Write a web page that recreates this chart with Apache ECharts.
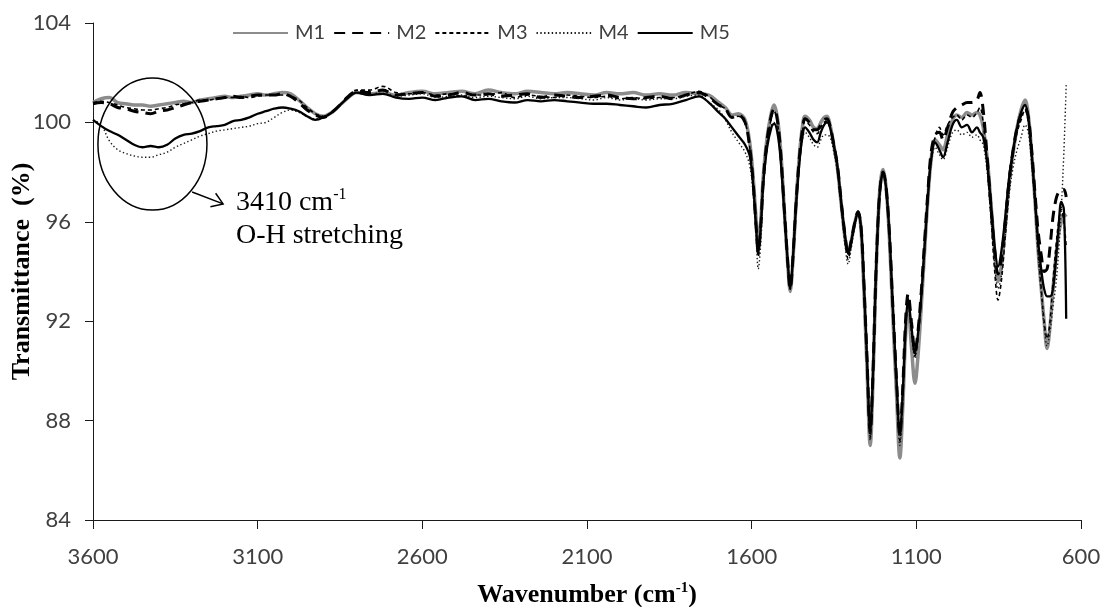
<!DOCTYPE html>
<html><head><meta charset="utf-8">
<script src="https://cdn.jsdelivr.net/npm/echarts@6/dist/echarts.min.js"></script>
<style>html,body{margin:0;padding:0;background:#fff}#c{width:1104px;height:607px}</style>
</head><body><div id="c"></div>
<script>
// ---------- DATA ----------
const wavenumber = [
3600,3575,3550,3525,3500,3475,3450,3425,3400,3375,
3350,3325,3300,3275,3250,3225,3200,3175,3150,3125,
3100,3075,3050,3025,3000,2975,2950,2925,2900,2875,
2850,2825,2800,
2760,2720,2680,2640,2600,2560,2520,2480,2440,2400,
2360,2320,2280,2240,2200,2160,2120,2080,2040,2000,
1960,1920,1880,1840,1800,1760,
1730,1700,1680,1660,1640,1620,1605,1595,1587,1580,
1572,1565,1553,1540,1532,1522,1512,1500,1490,1483,
1475,1465,1455,1446,1438,1425,1412,1401,1390,1380,
1371,1362,1352,1340,1328,1316,1307,1298,1288,1277,
1268,1260,1250,1240,1232,1224,1215,1208,1201,1192,
1182,1172,1160,1150,1141,1132,1125,1115,1104,1095,
1085,1075,1065,1055,1043,1030,1019,1005,990,977,
962,946,931,916,907,897,885,872,862,852,
842,830,818,806,794,782,770,760,750,740,
730,720,712,703,694,685,676,668,660,652,
645
];
const m1 = [
100.8,100.95,101.0,100.8,100.75,100.7,100.7,100.65,100.7,100.75,
100.8,100.85,100.8,100.9,100.95,101.0,101.05,101.0,101.05,101.1,
101.15,101.1,101.15,101.2,101.15,100.9,100.6,100.35,100.25,100.4,
100.7,101.0,101.2,
101.15,101.2,101.1,101.2,101.25,101.15,101.2,101.25,101.15,101.3,
101.2,101.15,101.25,101.2,101.15,101.2,101.15,101.1,101.2,101.15,
101.2,101.1,101.15,101.1,101.2,101.15,
101.1,100.8,100.6,100.3,100.35,100.1,99.1,97.7,96.2,95.1,
96.1,97.8,99.4,100.4,100.7,100.2,98.9,96.3,94.2,93.2,
94.4,96.8,98.7,99.8,100.25,100.1,99.8,99.75,100.0,100.2,
100.25,99.9,99.2,98.2,96.7,95.3,94.8,95.2,95.9,96.4,
95.7,93.5,90.2,87.0,89.4,93.2,96.4,97.7,98.1,97.4,
95.4,92.4,89.0,86.5,88.6,91.6,92.6,91.0,89.5,90.6,
92.6,94.8,96.9,98.5,99.3,99.1,98.9,99.5,100.1,100.3,
100.2,100.4,100.3,100.4,100.3,99.8,98.6,96.5,94.8,93.6,
94.2,95.8,97.6,98.8,99.8,100.5,100.9,100.3,98.8,96.9,
94.8,93.2,92.0,90.9,91.8,93.3,94.6,95.5,96.0,96.3,
96.2
];
const m2 = [
100.75,100.8,100.75,100.6,100.55,100.45,100.4,100.35,100.45,100.5,
100.6,100.7,100.8,100.85,100.9,100.95,101.0,101.05,101.0,101.05,
101.1,101.1,101.1,101.15,101.05,100.8,100.5,100.3,100.2,100.4,
100.7,101.05,101.25,
101.2,101.3,101.1,101.15,101.2,101.05,101.1,101.2,101.1,101.15,
101.05,101.1,101.15,101.0,101.1,101.05,101.0,101.05,101.1,101.0,
100.95,101.0,101.05,100.95,101.1,101.2,
101.0,100.7,100.55,100.2,100.3,100.0,98.9,97.5,95.9,94.8,
95.9,97.6,99.3,100.3,100.55,100.1,98.8,96.3,94.3,93.3,
94.5,96.8,98.6,99.7,100.15,100.0,99.7,99.7,99.9,100.1,
100.15,99.85,99.2,98.3,96.8,95.4,94.7,95.2,95.9,96.4,
95.8,93.8,90.6,87.5,89.8,93.4,96.4,97.6,98.0,97.4,
95.6,92.8,89.6,87.4,89.4,92.2,93.1,92.0,90.8,91.6,
93.2,95.2,97.2,98.8,99.5,99.6,99.3,99.8,100.4,100.6,
100.7,100.8,100.8,100.9,101.2,100.5,98.6,96.4,94.8,93.9,
94.5,96.0,97.7,98.9,99.8,100.3,100.6,100.2,98.9,97.2,
95.6,94.6,94.0,94.1,95.0,96.2,96.9,97.2,97.3,97.3,
97.0
];
const m3 = [
100.8,100.85,100.8,100.7,100.6,100.55,100.5,100.5,100.55,100.6,
100.7,100.75,100.8,100.9,100.9,100.95,101.0,101.0,101.05,101.0,
101.05,101.1,101.1,101.1,101.05,100.9,100.6,100.35,100.25,100.4,
100.7,101.05,101.3,
101.3,101.45,101.2,101.15,101.2,101.1,101.15,101.05,101.1,101.1,
101.2,101.0,101.1,101.05,101.0,101.1,101.05,101.0,101.05,100.95,
101.0,100.95,101.0,101.0,101.1,101.25,
101.05,100.7,100.55,100.2,100.25,100.0,98.9,97.5,95.8,94.6,
95.8,97.6,99.2,100.2,100.45,100.0,98.7,96.2,94.2,93.3,
94.5,96.7,98.5,99.6,100.05,99.9,99.6,99.55,99.8,100.0,
100.05,99.8,99.1,98.2,96.6,95.2,94.5,95.1,95.8,96.3,
95.7,93.6,90.4,87.3,89.6,93.3,96.3,97.5,97.95,97.3,
95.5,92.6,89.4,87.2,89.2,91.9,92.8,91.7,90.6,91.4,
93.0,95.0,97.0,98.6,99.4,99.8,99.5,99.9,100.2,100.3,
100.1,100.3,100.2,100.4,100.6,100.0,98.3,95.9,94.0,92.85,
93.6,95.4,97.3,98.7,99.6,100.1,100.5,100.0,98.6,96.8,
94.8,93.2,92.0,91.3,92.0,93.6,95.0,96.0,96.5,96.0,
95.0
];
const m4 = [
100.1,99.9,99.25,98.9,98.75,98.65,98.6,98.6,98.7,98.8,
99.0,99.15,99.3,99.45,99.55,99.65,99.7,99.75,99.8,99.85,
99.95,100.0,100.2,100.4,100.5,100.4,100.25,100.15,100.2,100.4,
100.7,101.0,101.2,
101.1,101.25,101.05,101.1,101.15,101.0,101.05,101.1,101.0,101.05,
101.0,100.95,101.05,100.95,101.0,101.0,100.95,100.9,101.0,100.9,
100.95,100.9,100.95,100.95,101.05,101.1,
100.8,100.5,100.1,99.6,99.2,98.8,98.2,97.0,95.5,94.1,
95.2,97.2,99.0,99.9,100.0,99.6,98.5,96.1,94.2,93.3,
94.4,96.6,98.3,99.3,99.6,99.4,99.1,99.0,99.3,99.5,
99.5,99.4,98.9,98.0,96.5,95.0,94.3,94.9,95.7,96.3,
95.6,93.6,90.3,87.2,89.6,93.2,96.2,97.5,97.9,97.3,
95.4,92.5,89.3,87.0,89.0,91.8,92.6,91.5,90.5,91.3,
92.9,94.9,96.9,98.4,99.0,98.7,98.5,99.0,99.6,99.7,
99.5,99.6,99.4,99.5,99.3,99.1,98.0,95.9,94.3,93.3,
93.8,95.4,97.1,98.2,98.9,99.4,99.9,99.6,98.3,96.6,
94.6,93.0,91.8,91.0,91.6,92.6,93.5,94.8,96.5,98.8,
101.5
];
const m5 = [
100.1,99.85,99.65,99.5,99.3,99.1,99.0,99.05,99.0,99.1,
99.35,99.5,99.55,99.65,99.8,99.85,99.9,100.05,100.1,100.2,
100.35,100.45,100.55,100.6,100.55,100.45,100.25,100.1,100.2,100.4,
100.7,101.0,101.2,
101.1,101.15,101.0,100.95,101.0,100.9,101.0,101.05,100.9,100.95,
100.85,100.8,100.9,100.85,100.9,100.85,100.8,100.75,100.75,100.7,
100.65,100.6,100.7,100.75,100.9,101.05,
100.8,100.4,100.15,99.8,99.45,99.1,98.6,97.4,95.9,94.7,
95.9,97.5,99.0,99.8,99.95,99.6,98.5,96.2,94.3,93.3,
94.5,96.7,98.4,99.4,99.8,99.6,99.3,99.2,99.6,99.9,
100.0,99.8,99.2,98.3,96.8,95.4,94.7,95.2,95.9,96.4,
95.8,93.8,90.6,87.6,89.8,93.4,96.4,97.6,98.0,97.4,
95.6,92.8,89.6,87.5,89.2,91.9,92.9,91.8,90.7,91.5,
93.0,95.0,97.0,98.5,99.2,98.9,98.6,99.2,99.9,100.1,
99.8,99.9,99.6,99.8,99.6,99.4,98.4,96.5,95.0,94.2,
94.8,96.2,97.8,98.9,99.8,100.4,100.7,100.2,98.8,97.0,
95.2,94.0,93.3,93.0,93.0,93.3,94.5,95.8,96.8,96.5,
92.1
];
const seriesNames = ['M1', 'M2', 'M3', 'M4', 'M5'];
const xTickLabels = [3600, 3100, 2600, 2100, 1600, 1100, 600];
const yTickLabels = [84, 88, 92, 96, 100, 104];
const annotationLines = ['3410 cm', '-1', 'O-H stretching'];

// ---------- CHART ----------
const chart = echarts.init(document.getElementById('c'), null, {renderer: 'canvas'});
const allValues = [m1, m2, m3, m4, m5];
const styles = [
  {color: '#8c8c8c', width: 3.5, type: 'solid'},
  {color: '#000000', width: 3, type: [11, 7]},
  {color: '#000000', width: 1.6, type: [4, 3]},
  {color: '#1a1a1a', width: 1.4, type: [1.4, 2.4]},
  {color: '#000000', width: 2.3, type: 'solid'}
];
const series = seriesNames.map((n, i) => ({
  name: n,
  type: 'line',
  data: wavenumber.map((w, j) => [w, allValues[i][j]]),
  symbol: 'none',
  smooth: 0.35,
  color: styles[i].color,
  lineStyle: {color: styles[i].color, width: styles[i].width, type: styles[i].type},
  z: 2 + i,
  animation: false
}));
const labelFont = 'Lato, "Open Sans", sans-serif';
chart.setOption({
  animation: false,
  backgroundColor: '#fff',
  grid: {left: 93, right: 23, top: 23, bottom: 87, containLabel: false, outerBoundsMode: 'none'},
  legend: {
    data: seriesNames, left: 232, top: 23, padding: 0,
    itemWidth: 55, itemHeight: 14, itemGap: 8,
    itemStyle: {opacity: 0},
    textStyle: {fontFamily: labelFont, fontSize: 20, color: '#404040', padding: [0, 0, 0, 2]}
  },
  xAxis: {
    type: 'value', min: 600, max: 3600, inverse: true,
    name: '{a|Wavenumber (cm}{s|-1}{a|)}', nameLocation: 'middle', nameGap: 61, nameMoveOverlap: false,
    nameTextStyle: {rich: {
      a: {fontFamily: '"Liberation Serif", serif', fontWeight: 'bold', fontSize: 26, color: '#000'},
      s: {fontFamily: '"Liberation Serif", serif', fontWeight: 'bold', fontSize: 15, color: '#000', padding: [0, 0, 14, 0]}
    }},
    axisLine: {show: true, onZero: false, lineStyle: {color: '#1a1a1a', width: 1}},
    axisTick: {show: true, length: 9, customValues: xTickLabels, lineStyle: {color: '#1a1a1a'}},
    axisLabel: {customValues: xTickLabels, margin: 26, fontFamily: labelFont, fontSize: 22, color: '#404040',
      formatter: (v) => String(v)},
    splitLine: {show: false}
  },
  yAxis: {
    type: 'value', min: 84, max: 104, interval: 4,
    name: 'Transmittance  (%)', nameLocation: 'middle', nameGap: 58, nameMoveOverlap: false,
    nameTextStyle: {fontFamily: '"Liberation Serif", serif', fontWeight: 'bold', fontSize: 26, color: '#000'},
    axisLine: {show: true, lineStyle: {color: '#1a1a1a', width: 1}},
    axisTick: {show: true, length: 8, lineStyle: {color: '#1a1a1a'}},
    axisLabel: {margin: 22, fontFamily: labelFont, fontSize: 22, color: '#404040'},
    splitLine: {show: false}
  },
  series: series
});

// annotation, placed through the axes (data coordinates)
const toPx = (p) => chart.convertToPixel({gridIndex: 0}, p);
const eL = toPx([3585, 99.13]), eR = toPx([3254, 99.13]);
const eT = toPx([3421, 101.79]), eB = toPx([3421, 96.47]);
const aS = toPx([3299, 97.2]), aE = toPx([3205, 96.72]);
const tP = toPx([3166, 97.45]);
const dx = aE[0] - aS[0], dy = aE[1] - aS[1];
const len = Math.hypot(dx, dy), ux = dx / len, uy = dy / len;
const ang = 34 * Math.PI / 180, hl = 13;
const rot = (a) => [ux * Math.cos(a) - uy * Math.sin(a), ux * Math.sin(a) + uy * Math.cos(a)];
const r1 = rot(ang), r2 = rot(-ang);
chart.setOption({
  graphic: [
    {type: 'ellipse', z: 10, shape: {cx: (eL[0] + eR[0]) / 2, cy: (eT[1] + eB[1]) / 2, rx: (eR[0] - eL[0]) / 2, ry: (eB[1] - eT[1]) / 2},
     style: {fill: 'none', stroke: '#000', lineWidth: 1.5}},
    {type: 'line', z: 10, shape: {x1: aS[0], y1: aS[1], x2: aE[0], y2: aE[1]}, style: {stroke: '#000', lineWidth: 1.5}},
    {type: 'polyline', z: 10, shape: {points: [[aE[0] - hl * r1[0], aE[1] - hl * r1[1]], aE, [aE[0] - hl * r2[0], aE[1] - hl * r2[1]]]},
     style: {stroke: '#000', lineWidth: 1.5, fill: 'none'}},
    {type: 'text', z: 10, x: tP[0], y: tP[1], style: {
      text: '{a|' + annotationLines[0] + '}{s|' + annotationLines[1] + '}\n{a|' + annotationLines[2] + '}',
      rich: {
        a: {fontFamily: '"Liberation Serif", serif', fontSize: 28, lineHeight: 33, fill: '#000'},
        s: {fontFamily: '"Liberation Serif", serif', fontSize: 16, lineHeight: 33, fill: '#000', padding: [0, 0, 15, 0]}
      },
      verticalAlign: 'top', align: 'left'
    }}
  ]
});
</script>
</body></html>
